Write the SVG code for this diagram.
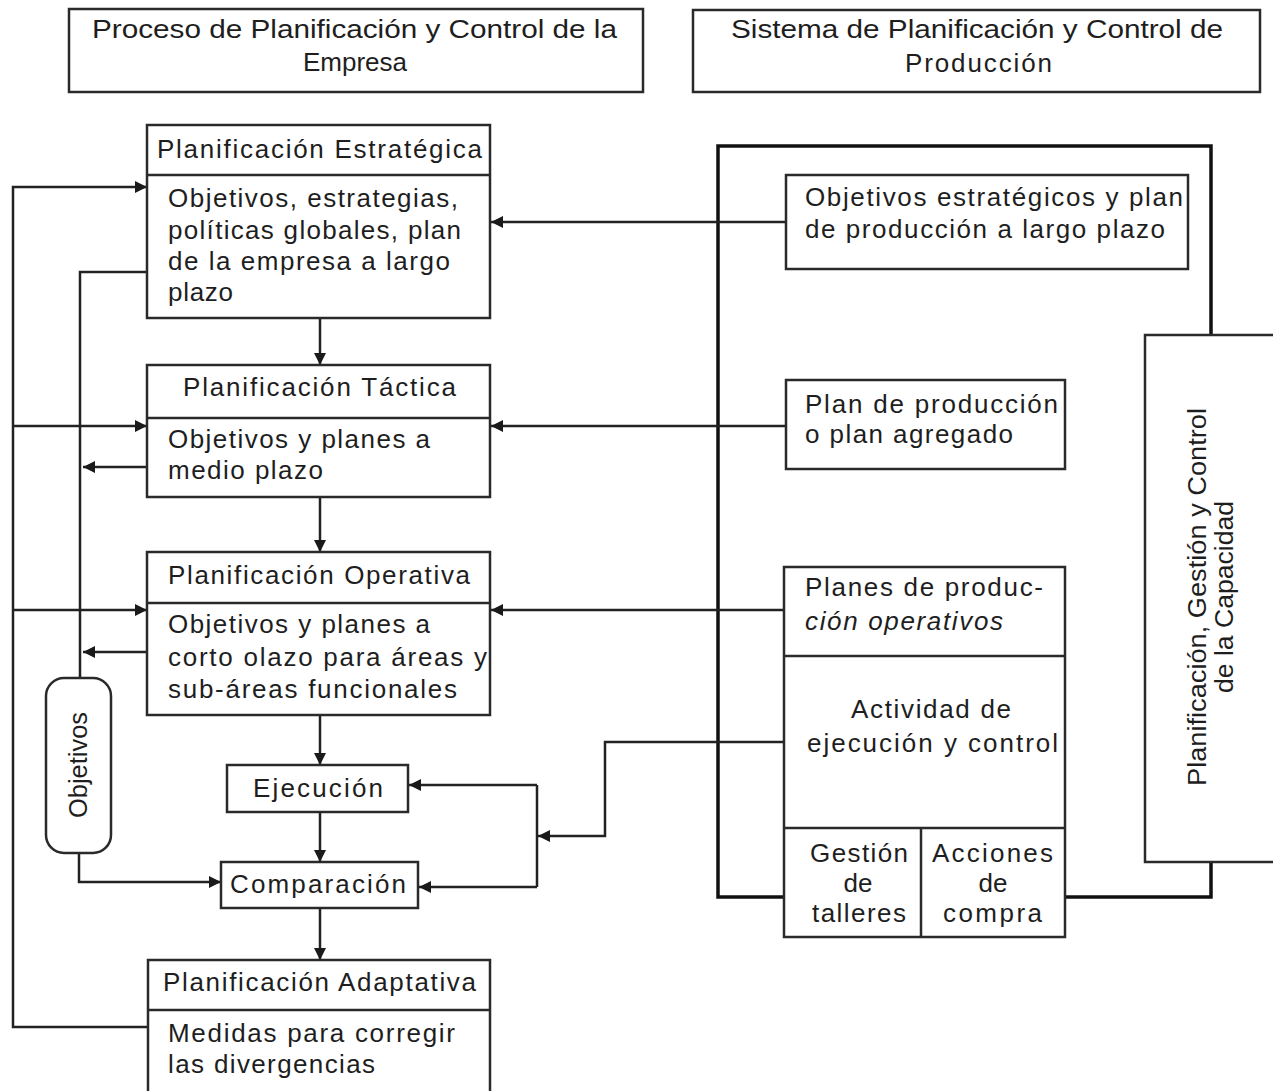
<svg xmlns="http://www.w3.org/2000/svg" width="1273" height="1091" viewBox="0 0 1273 1091">
<defs>
<marker id="ah" markerUnits="userSpaceOnUse" markerWidth="14" markerHeight="14" refX="12" refY="6" orient="auto">
<path d="M0,0 L12,6 L0,12 z" fill="#1a1a1a"/>
</marker>
<style>
.box{fill:#fff;stroke:#2a2a2a;stroke-width:2.5}
.div{stroke:#2a2a2a;stroke-width:2.5;fill:none}
.thick{fill:none;stroke:#111;stroke-width:3.5}
.c{fill:none;stroke:#222;stroke-width:2.5}
.a{fill:none;stroke:#222;stroke-width:2.5;marker-end:url(#ah)}
text{font-family:"Liberation Sans",Arial,sans-serif;font-size:26px;fill:#1e1e1e}
.m{text-anchor:middle}
</style>
</defs>
<rect width="1273" height="1091" fill="#fff"/>

<!-- outer thick frame -->
<rect class="thick" x="718" y="146" width="493" height="751"/>

<g id="connectors">
<path class="a" d="M148,1027 H13 V187 H147"/>
<path class="a" d="M13,426 H147"/>
<path class="a" d="M13,610 H147"/>
<path class="c" d="M147,272 H80 V678"/>
<path class="a" d="M147,467 H83"/>
<path class="a" d="M147,652 H83"/>
<path class="a" d="M79,853 V882 H221"/>
<path class="a" d="M320,318 V365"/>
<path class="a" d="M320,497 V552"/>
<path class="a" d="M320,715 V765"/>
<path class="a" d="M320,812 V862"/>
<path class="a" d="M320,908 V960"/>
<path class="a" d="M786,222 H491"/>
<path class="a" d="M786,426 H491"/>
<path class="a" d="M784,610 H491"/>
<path class="a" d="M784,742 H605 V836 H538"/>
<path class="c" d="M537,785 V887"/>
<path class="a" d="M537,785 H409"/>
<path class="a" d="M537,887 H419"/>
</g>

<g id="hdr-left">
<rect class="box" x="69" y="9" width="574" height="83"/>
<text x="92" y="38" textLength="525" lengthAdjust="spacingAndGlyphs">Proceso de Planificación y Control de la</text>
<text x="355" y="71" class="m">Empresa</text>
</g>

<g id="hdr-right">
<rect class="box" x="693" y="10" width="567" height="82"/>
<text x="731" y="38" textLength="492" lengthAdjust="spacingAndGlyphs">Sistema de Planificación y Control de</text>
<text x="905" y="72" textLength="147" lengthAdjust="spacing">Producción</text>
</g>

<g id="estrategica">
<rect class="box" x="147" y="125" width="343" height="193"/>
<line class="div" x1="147" y1="175" x2="490" y2="175"/>
<text x="157" y="158" textLength="325" lengthAdjust="spacing">Planificación Estratégica</text>
<text x="168" y="207" textLength="290" lengthAdjust="spacing">Objetivos, estrategias,</text>
<text x="168" y="239" textLength="293" lengthAdjust="spacing">políticas globales, plan</text>
<text x="168" y="270" textLength="282" lengthAdjust="spacing">de la empresa a largo</text>
<text x="168" y="301" textLength="65" lengthAdjust="spacing">plazo</text>
</g>

<g id="tactica">
<rect class="box" x="147" y="365" width="343" height="132"/>
<line class="div" x1="147" y1="418" x2="490" y2="418"/>
<text x="183" y="396" textLength="273" lengthAdjust="spacing">Planificación Táctica</text>
<text x="168" y="448" textLength="262" lengthAdjust="spacing">Objetivos y planes a</text>
<text x="168" y="479" textLength="155" lengthAdjust="spacing">medio plazo</text>
</g>

<g id="operativa">
<rect class="box" x="147" y="552" width="343" height="163"/>
<line class="div" x1="147" y1="603" x2="490" y2="603"/>
<text x="168" y="584" textLength="302" lengthAdjust="spacing">Planificación Operativa</text>
<text x="168" y="633" textLength="262" lengthAdjust="spacing">Objetivos y planes a</text>
<text x="168" y="666" textLength="319" lengthAdjust="spacing">corto olazo para áreas y</text>
<text x="168" y="698" textLength="289" lengthAdjust="spacing">sub-áreas funcionales</text>
</g>

<g id="objetivos">
<rect class="box" x="46" y="678" width="65" height="175" rx="18" ry="18"/>
<text transform="translate(87,765) rotate(-90)" class="m" font-size="25" textLength="106" lengthAdjust="spacingAndGlyphs">Objetivos</text>
</g>

<g id="ejecucion">
<rect class="box" x="227" y="765" width="181" height="47"/>
<text x="253" y="797" textLength="130" lengthAdjust="spacing">Ejecución</text>
</g>

<g id="comparacion">
<rect class="box" x="221" y="862" width="197" height="46"/>
<text x="230" y="893" textLength="176" lengthAdjust="spacing">Comparación</text>
</g>

<g id="adaptativa">
<rect class="box" x="148" y="960" width="342" height="140"/>
<line class="div" x1="148" y1="1010" x2="490" y2="1010"/>
<text x="163" y="991" textLength="313" lengthAdjust="spacing">Planificación Adaptativa</text>
<text x="168" y="1042" textLength="287" lengthAdjust="spacing">Medidas para corregir</text>
<text x="168" y="1073" textLength="207" lengthAdjust="spacing">las divergencias</text>
</g>

<g id="obj-estrategicos">
<rect class="box" x="786" y="175" width="402" height="94"/>
<text x="805" y="206" textLength="378" lengthAdjust="spacing">Objetivos estratégicos y plan</text>
<text x="805" y="238" textLength="360" lengthAdjust="spacing">de producción a largo plazo</text>
</g>

<g id="plan-produccion">
<rect class="box" x="786" y="380" width="279" height="89"/>
<text x="805" y="413" textLength="253" lengthAdjust="spacing">Plan de producción</text>
<text x="805" y="443" textLength="208" lengthAdjust="spacing">o plan agregado</text>
</g>

<g id="planes-operativos">
<rect class="box" x="784" y="567" width="281" height="370"/>
<line class="div" x1="784" y1="656" x2="1065" y2="656"/>
<line class="div" x1="784" y1="828" x2="1065" y2="828"/>
<line class="div" x1="921" y1="828" x2="921" y2="937"/>
<text x="805" y="596" textLength="238" lengthAdjust="spacing">Planes de produc-</text>
<text x="805" y="630" textLength="198" lengthAdjust="spacing" font-style="italic">ción operativos</text>
<text x="851" y="718" textLength="160" lengthAdjust="spacing">Actividad de</text>
<text x="807" y="752" textLength="251" lengthAdjust="spacing">ejecución y control</text>
<text x="810" y="862" textLength="98" lengthAdjust="spacing">Gestión</text>
<text x="858" y="892" class="m">de</text>
<text x="812" y="922" textLength="94" lengthAdjust="spacing">talleres</text>
<text x="932" y="862" textLength="121" lengthAdjust="spacing">Acciones</text>
<text x="993" y="892" class="m">de</text>
<text x="943" y="922" textLength="99" lengthAdjust="spacing">compra</text>
</g>

<g id="capacidad">
<rect class="box" x="1145" y="335" width="140" height="527"/>
<text transform="translate(1206,597) rotate(-90)" class="m" font-size="24" textLength="378" lengthAdjust="spacingAndGlyphs">Planificación, Gestión y Control</text>
<text transform="translate(1233,597) rotate(-90)" class="m" font-size="24" textLength="192" lengthAdjust="spacingAndGlyphs">de la Capacidad</text>
</g>
</svg>
